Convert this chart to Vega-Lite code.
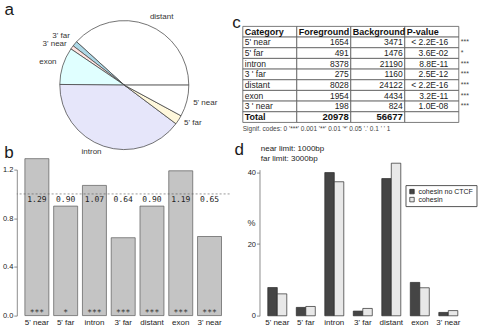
{
  "$schema": "https://vega.github.io/schema/vega-lite/v6.json",
  "background": "white",
  "padding": {"left": 1.8, "top": 0.4, "right": 0, "bottom": 0},
  "columns": 2,
  "align": "none",
  "bounds": "flush",
  "spacing": {"row": 23.2, "column": 11},
  "resolve": {"scale": {"fill": "independent", "color": "independent"}, "legend": {"fill": "independent"}},
  "config": {
    "view": {"stroke": null},
    "font": "Liberation Sans",
    "title": {"fontSize": 17, "fontWeight": "normal", "color": "#1a1a1a", "anchor": "start", "frame": "group", "baseline": "alphabetic", "font": "Liberation Sans"},
    "axis": {"grid": false, "labelFont": "Liberation Sans", "titleFont": "Liberation Sans", "domainColor": "#707070", "tickColor": "#707070", "labelColor": "#222222", "titleColor": "#333333", "domainWidth": 0.8, "tickWidth": 0.8, "labelOverlap": false},
    "legend": {"labelFont": "Liberation Sans"},
    "text": {"font": "Liberation Sans", "color": "#222222"}
  },
  "concat": [
    {
      "width": 215,
      "height": 117.4,
      "title": {"text": "a", "dx": -12.2, "offset": -5.7},
      "data": {"values": [
        {"region": "distant", "n": 8028, "k": 1},
        {"region": "3' far", "n": 275, "k": 2},
        {"region": "3' near", "n": 198, "k": 3},
        {"region": "exon", "n": 1954, "k": 4},
        {"region": "intron", "n": 8378, "k": 5},
        {"region": "5' far", "n": 491, "k": 6},
        {"region": "5' near", "n": 1654, "k": 7}
      ]},
      "encoding": {
        "theta": {"field": "n", "type": "quantitative", "stack": true, "scale": {"range": [1.5708, -4.7124]}},
        "order": {"field": "k", "type": "quantitative"}
      },
      "layer": [
        {
          "mark": {"type": "arc", "outerRadius": 64.5, "stroke": "#3a3a3a", "strokeWidth": 0.7},
          "encoding": {
            "fill": {"field": "region", "type": "nominal", "legend": null,
              "scale": {"domain": ["distant", "3' far", "3' near", "exon", "intron", "5' far", "5' near"],
                        "range": ["#ffffff", "#add8e6", "#ffe4e1", "#e0ffff", "#e6e6fa", "#fff8dc", "#ffffff"]}}
          }
        },
        {
          "mark": {"type": "text", "radius": 71, "fontSize": 8, "baseline": "middle", "color": "#333333",
                   "align": {"expr": "indexof(['distant', \"5' far\", \"5' near\"], datum.region) >= 0 ? 'left' : 'right'"},
                   "dy": {"expr": "datum.region == \"3' far\" ? -4 : (datum.region == 'exon' ? -2 : (datum.region == 'distant' ? -2 : 0))"}},
          "encoding": {"text": {"field": "region", "type": "nominal"}}
        }
      ]
    },
    {
      "width": 216,
      "height": 120,
      "title": {"text": "c", "dx": -10.5, "offset": -5.7},
      "data": {"values": [
        {"r": 0, "Category": "Category", "Foreground": "Foreground", "Background": "Background", "P-value": "P-value", "sig": ""},
        {"r": 1, "Category": "5' near", "Foreground": "1654", "Background": "3471", "P-value": "< 2.2E-16", "sig": "***"},
        {"r": 2, "Category": "5' far", "Foreground": "491", "Background": "1476", "P-value": "3.6E-02", "sig": "*"},
        {"r": 3, "Category": "intron", "Foreground": "8378", "Background": "21190", "P-value": "8.8E-11", "sig": "***"},
        {"r": 4, "Category": "3 ' far", "Foreground": "275", "Background": "1160", "P-value": "2.5E-12", "sig": "***"},
        {"r": 5, "Category": "distant", "Foreground": "8028", "Background": "24122", "P-value": "< 2.2E-16", "sig": "***"},
        {"r": 6, "Category": "exon", "Foreground": "1954", "Background": "4434", "P-value": "3.2E-11", "sig": "***"},
        {"r": 7, "Category": "3 ' near", "Foreground": "198", "Background": "824", "P-value": "1.0E-08", "sig": "***"},
        {"r": 8, "Category": "Total", "Foreground": "20978", "Background": "56677", "P-value": "", "sig": ""},
        {"r": 9, "Category": "Signif. codes: 0 '***' 0.001 '**' 0.01 '*' 0.05 '.' 0.1 ' ' 1", "Foreground": "", "Background": "", "P-value": "", "sig": ""}
      ]},
      "transform": [{"fold": ["Category", "Foreground", "Background", "P-value"], "as": ["col", "v"]}],
      "encoding": {
        "x": {"field": "col", "type": "nominal", "axis": null,
              "scale": {"domain": ["Category", "Foreground", "Background", "P-value"], "paddingInner": 0, "paddingOuter": 0}},
        "y": {"field": "r", "type": "ordinal", "axis": null,
              "scale": {"domain": [0, 1, 2, 3, 4, 5, 6, 7, 8, 9], "paddingInner": 0, "paddingOuter": 0.623, "align": 0}}
      },
      "layer": [
        {"transform": [{"filter": "datum.r <= 8"}],
         "mark": {"type": "rect", "fill": "white", "stroke": "#5a5a5a", "strokeWidth": 0.8}},
        {"transform": [{"filter": "datum.r == 0 || (datum.r == 8 && datum.col == 'Category')"}],
         "mark": {"type": "text", "align": "left", "dx": 2, "fontSize": 9, "fontWeight": "bold", "color": "#111111"},
         "encoding": {"x": {"field": "col", "type": "nominal", "bandPosition": 0}, "text": {"field": "v"}}},
        {"transform": [{"filter": "datum.col == 'Category' && datum.r >= 1 && datum.r <= 7"}],
         "mark": {"type": "text", "align": "left", "dx": 2, "fontSize": 8.5},
         "encoding": {"x": {"field": "col", "type": "nominal", "bandPosition": 0}, "text": {"field": "v"}}},
        {"transform": [{"filter": "(datum.col == 'Foreground' || datum.col == 'Background') && datum.r >= 1 && datum.r <= 7"}],
         "mark": {"type": "text", "align": "right", "dx": -2, "fontSize": 8.5},
         "encoding": {"x": {"field": "col", "type": "nominal", "bandPosition": 1}, "text": {"field": "v"}}},
        {"transform": [{"filter": "(datum.col == 'Foreground' || datum.col == 'Background') && datum.r == 8"}],
         "mark": {"type": "text", "align": "right", "dx": -2, "fontSize": 9.5, "fontWeight": "bold", "color": "#111111"},
         "encoding": {"x": {"field": "col", "type": "nominal", "bandPosition": 1}, "text": {"field": "v"}}},
        {"transform": [{"filter": "datum.col == 'P-value' && datum.r >= 1 && datum.r <= 7"}],
         "mark": {"type": "text", "align": "right", "dx": -10.5, "fontSize": 8.5},
         "encoding": {"x": {"field": "col", "type": "nominal", "bandPosition": 1}, "text": {"field": "v"}}},
        {"transform": [{"filter": "datum.col == 'P-value' && datum.r >= 1 && datum.r <= 7"}],
         "mark": {"type": "text", "align": "left", "dx": 2, "fontSize": 7, "color": "#444444"},
         "encoding": {"x": {"field": "col", "type": "nominal", "bandPosition": 1}, "text": {"field": "sig"}}},
        {"transform": [{"filter": "datum.col == 'Category' && datum.r == 9"}],
         "mark": {"type": "text", "align": "left", "dx": 0, "dy": 1.3, "fontSize": 6.5, "color": "#444444"},
         "encoding": {"x": {"field": "col", "type": "nominal", "bandPosition": 0}, "text": {"field": "v"}}}
      ]
    },
    {
      "width": 212.8,
      "height": 146,
      "title": {"text": "b", "dx": -12.5, "offset": -4},
      "data": {"values": [
        {"cat": "5' near", "ratio": 1.29, "sig": "***"},
        {"cat": "5' far", "ratio": 0.90, "sig": "*"},
        {"cat": "intron", "ratio": 1.07, "sig": "***"},
        {"cat": "3' far", "ratio": 0.64, "sig": "***"},
        {"cat": "distant", "ratio": 0.90, "sig": "***"},
        {"cat": "exon", "ratio": 1.19, "sig": "***"},
        {"cat": "3' near", "ratio": 0.65, "sig": "***"}
      ]},
      "layer": [
        {
          "mark": {"type": "bar", "fill": "#c4c4c4", "stroke": "#5a5a5a", "strokeWidth": 0.7},
          "encoding": {
            "x": {"field": "cat", "type": "nominal", "sort": null,
                  "scale": {"paddingInner": 0.1667, "paddingOuter": 0.281},
                  "axis": {"title": null, "labelAngle": 0, "ticks": false, "domain": false, "labelPadding": 3, "labelFontSize": 8, "labelColor": "#222222"}},
            "y": {"field": "ratio", "type": "quantitative",
                  "scale": {"domain": [0, 1.2], "nice": false},
                  "axis": {"title": null, "values": [0, 0.2, 0.4, 0.6, 0.8, 1, 1.2], "format": ".1f", "tickSize": 3, "labelPadding": 1, "labelFontSize": 7.5, "labelOverlap": false, "labelBound": false}}
          }
        },
        {
          "data": {"values": [{"ref": 1}]},
          "mark": {"type": "rule", "strokeDash": [2, 2], "color": "#555555", "strokeWidth": 0.6},
          "encoding": {"y": {"field": "ref", "type": "quantitative"}}
        },
        {
          "mark": {"type": "text", "font": "DejaVu Sans Mono", "fontSize": 8, "baseline": "top", "dy": 2, "color": "#222222"},
          "encoding": {
            "x": {"field": "cat", "type": "nominal", "sort": null},
            "y": {"datum": 1},
            "text": {"field": "ratio", "type": "quantitative", "format": ".2f"}
          }
        },
        {
          "mark": {"type": "text", "font": "DejaVu Sans Mono", "fontSize": 8, "baseline": "alphabetic", "dy": -1, "color": "#333333"},
          "encoding": {
            "x": {"field": "cat", "type": "nominal", "sort": null},
            "y": {"datum": 0},
            "text": {"field": "sig"}
          }
        }
      ]
    },
    {
      "width": 223.2,
      "height": 146.2,
      "title": {"text": "d", "dx": -8.3, "offset": -13.5},
      "data": {"values": [
        {"cat": "5' near", "series": "cohesin no CTCF", "pct": 7.88},
        {"cat": "5' near", "series": "cohesin", "pct": 6.12},
        {"cat": "5' far", "series": "cohesin no CTCF", "pct": 2.34},
        {"cat": "5' far", "series": "cohesin", "pct": 2.60},
        {"cat": "intron", "series": "cohesin no CTCF", "pct": 39.94},
        {"cat": "intron", "series": "cohesin", "pct": 37.39},
        {"cat": "3' far", "series": "cohesin no CTCF", "pct": 1.31},
        {"cat": "3' far", "series": "cohesin", "pct": 2.05},
        {"cat": "distant", "series": "cohesin no CTCF", "pct": 38.27},
        {"cat": "distant", "series": "cohesin", "pct": 42.56},
        {"cat": "exon", "series": "cohesin no CTCF", "pct": 9.31},
        {"cat": "exon", "series": "cohesin", "pct": 7.82},
        {"cat": "3' near", "series": "cohesin no CTCF", "pct": 0.94},
        {"cat": "3' near", "series": "cohesin", "pct": 1.45}
      ]},
      "layer": [
        {
          "mark": {"type": "bar", "stroke": "#2a2a2a", "strokeWidth": 0.7},
          "encoding": {
            "x": {"field": "cat", "type": "nominal",
                  "sort": ["5' near", "5' far", "intron", "3' far", "distant", "exon", "3' near"],
                  "scale": {"paddingInner": 0.3333, "paddingOuter": 0.582, "align": 0.753},
                  "axis": {"title": null, "labelAngle": 0, "ticks": false, "domain": false, "labelPadding": 3, "labelFontSize": 8, "labelColor": "#222222"}},
            "xOffset": {"field": "series", "type": "nominal", "sort": ["cohesin no CTCF", "cohesin"],
                        "scale": {"paddingInner": 0, "paddingOuter": 0}},
            "y": {"field": "pct", "type": "quantitative",
                  "scale": {"domain": [0, 40.78], "nice": false},
                  "axis": {"title": "%", "titleAngle": 0, "titleX": -8.5, "titleY": 52.5, "titleAlign": "center", "titleBaseline": "middle",
                           "titleFontSize": 9, "titleFontWeight": "normal", "values": [0, 10, 20, 30, 40],
                           "tickSize": 3, "labelPadding": 1, "labelFontSize": 7.5, "labelOverlap": false, "labelBound": false, "offset": -16.7}},
            "fill": {"field": "series", "type": "nominal",
                     "scale": {"domain": ["cohesin no CTCF", "cohesin"], "range": ["#454545", "#e8e8e8"]},
                     "legend": {"orient": "none", "legendX": 162.7, "legendY": 15.5, "title": null,
                                "symbolType": "square", "symbolSize": 20, "symbolStrokeColor": "#222222", "symbolStrokeWidth": 0.7,
                                "labelFontSize": 7, "labelColor": "#222222", "strokeColor": "#555555", "fillColor": "white",
                                "padding": 3, "rowPadding": 0, "clipHeight": 7, "labelOffset": 3}}
          }
        },
        {
          "data": {"values": [{"note": ["near limit: 1000bp", "far limit: 3000bp"]}]},
          "mark": {"type": "text", "align": "left", "baseline": "middle", "fontSize": 8, "lineHeight": 10, "dx": -7, "color": "#222222"},
          "encoding": {
            "x": {"datum": "5' near", "bandPosition": 0},
            "y": {"datum": 46.5},
            "text": {"field": "note"}
          }
        }
      ]
    }
  ]
}
